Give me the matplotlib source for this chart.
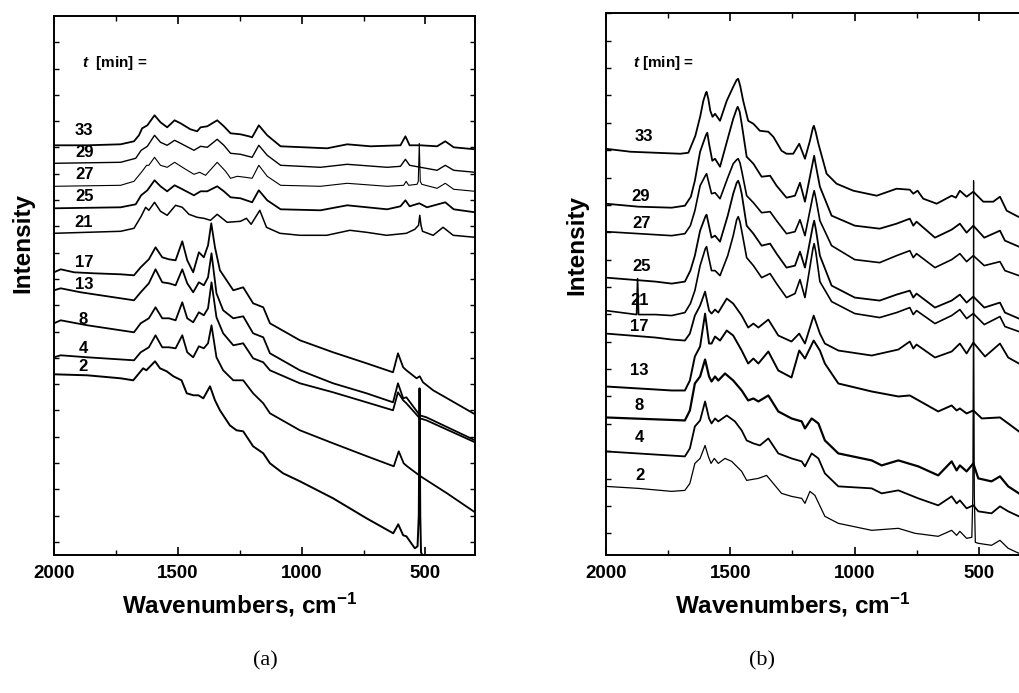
import matplotlib
matplotlib.use('Agg')
import matplotlib.pyplot as plt
import numpy as np

# raman spectra: (wavenumber cm-1, intensity a.u.)
times = [33, 29, 27, 25, 21, 17, 13, 8, 4, 2]

# panel (a)
a33 = [(2000,410),(1866,410),(1731,411),(1677,414),(1657,420),(1644,427),(1623,430),(1594,440),(1570,433),(1543,428),(1513,435),(1489,432),(1449,426),(1422,424),(1408,428),(1381,429),(1341,435),(1314,429),(1287,422),(1247,421),(1213,419),(1200,418),(1173,430),(1139,420),(1085,409),(991,408),(897,407),(816,411),(722,409),(601,410),(581,419),(564,410),(520,410),(453,409),(420,414),(386,408),(300,406)]
a29 = [(2000,392),(1731,393),(1670,397),(1648,405),(1623,409),(1594,420),(1570,413),(1543,410),(1513,415),(1489,412),(1435,405),(1408,409),(1381,408),(1341,416),(1314,410),(1287,402),(1247,401),(1200,398),(1173,410),(1139,400),(1085,390),(924,388),(816,391),(655,388),(601,389),(581,396),(564,390),(520,388),(453,385),(420,390),(386,385),(300,383)]
a27 = [(2000,369),(1731,370),(1677,374),(1644,384),(1626,390),(1617,390),(1594,398),(1570,390),(1543,388),(1513,393),(1475,387),(1435,381),(1412,383),(1388,380),(1341,393),(1307,384),(1287,377),(1260,379),(1227,378),(1200,377),(1173,390),(1139,379),(1085,370),(924,369),(816,372),(655,369),(588,370),(578,374),(568,370),(534,371),(529,374),(525,412),(521,374),(515,371),(453,367),(420,372),(386,366),(300,364)]
a25 = [(2000,347),(1731,348),(1670,351),(1648,360),(1623,365),(1594,375),(1570,369),(1543,364),(1513,370),(1489,367),(1435,360),(1408,364),(1381,364),(1341,369),(1314,364),(1287,358),(1247,357),(1200,353),(1173,365),(1139,355),(1085,346),(924,345),(816,350),(655,346),(601,349),(581,355),(564,349),(525,352),(494,348),(420,353),(386,346),(300,343)]
a21 = [(2000,322),(1731,324),(1677,327),(1648,339),(1630,348),(1617,345),(1594,353),(1570,344),(1543,340),(1509,350),(1482,348),(1455,341),(1422,338),(1395,337),(1368,335),(1341,341),(1301,333),(1247,334),(1223,337),(1204,331),(1169,345),(1142,328),(1088,322),(1007,320),(899,320),(805,325),(738,323),(657,320),(577,322),(543,326),(528,330),(523,340),(518,330),(512,324),(469,320),(429,328),(388,320),(300,318)]
a17 = [(2000,283),(1973,286),(1919,283),(1839,282),(1731,281),(1677,280),(1650,288),(1617,296),(1590,308),(1563,298),(1536,296),(1509,295),(1482,314),(1462,295),(1438,283),(1415,303),(1395,298),(1378,310),(1365,332),(1350,308),(1330,285),(1276,265),(1236,268),(1196,252),(1155,248),(1128,232),(1007,215),(873,203),(738,192),(631,183),(611,202),(590,188),(577,185),(536,177),(523,179),(510,173),(469,165),(300,141)]
a13 = [(2000,265),(1973,267),(1892,263),(1785,259),(1677,255),(1650,263),(1617,272),(1590,286),(1563,273),(1536,272),(1509,270),(1482,286),(1462,272),(1438,263),(1415,273),(1395,270),(1378,278),(1364,302),(1344,262),(1317,245),(1276,237),(1236,239),(1196,222),(1155,218),(1128,202),(1007,185),(873,172),(738,162),(631,153),(611,172),(590,157),(577,158),(523,140),(496,138),(300,115)]
a8 = [(2000,232),(1973,235),(1865,230),(1677,223),(1650,232),(1617,237),(1590,248),(1563,237),(1536,237),(1509,235),(1482,253),(1462,237),(1438,233),(1415,243),(1395,240),(1378,247),(1364,273),(1344,238),(1317,222),(1276,210),(1236,212),(1196,197),(1155,193),(1128,185),(1007,172),(873,163),(738,153),(631,145),(611,163),(590,155),(577,152),(523,137),(496,135),(300,113)]
a4 = [(2000,198),(1973,200),(1865,198),(1677,195),(1650,203),(1617,208),(1590,220),(1563,208),(1536,208),(1509,207),(1482,220),(1462,203),(1438,198),(1415,209),(1395,207),(1378,212),(1364,230),(1344,198),(1317,185),(1276,175),(1236,175),(1196,162),(1155,152),(1128,142),(1007,125),(873,112),(736,99),(628,89),(608,104),(588,92),(574,89),(520,79),(413,62),(300,43)]
a2 = [(2000,181),(1866,180),(1731,177),(1680,175),(1640,187),(1627,185),(1592,194),(1572,187),(1545,184),(1518,179),(1485,175),(1464,162),(1437,160),(1417,160),(1397,157),(1370,169),(1350,155),(1330,145),(1290,130),(1263,125),(1236,124),(1196,109),(1155,102),(1128,92),(1075,82),(1007,74),(873,57),(738,37),(630,22),(610,31),(590,20),(577,19),(543,7),(532,9),(527,40),(525,120),(524,167),(523,120),(521,40),(518,3),(503,-5),(470,-20)]

# panel (b)
b33 = [(2000,407),(1900,404),(1800,403),(1700,402),(1668,403),(1640,420),(1620,440),(1608,455),(1599,462),(1595,464),(1588,457),(1580,445),(1571,439),(1561,442),(1541,435),(1514,455),(1488,469),(1474,476),(1468,477),(1460,470),(1448,455),(1428,435),(1407,432),(1381,425),(1347,424),(1327,419),(1294,405),(1274,402),(1247,402),(1223,412),(1200,397),(1180,415),(1168,428),(1164,430),(1157,424),(1146,412),(1113,382),(1073,372),(1006,365),(912,360),(832,367),(779,366),(765,362),(748,365),(725,357),(671,352),(611,360),(594,358),(578,365),(551,359),(524,364),(484,354),(444,354),(417,359),(390,345),(344,339),(300,335)]
b29 = [(2000,352),(1869,349),(1735,348),(1682,350),(1658,359),(1642,375),(1621,404),(1597,421),(1592,423),(1585,412),(1572,395),(1561,397),(1541,389),(1508,419),(1488,437),(1474,447),(1470,449),(1462,444),(1454,432),(1434,399),(1407,392),(1374,379),(1340,380),(1314,370),(1274,358),(1240,360),(1220,373),(1200,354),(1168,394),(1163,400),(1156,390),(1140,369),(1093,340),(1000,330),(900,327),(832,332),(779,337),(765,330),(752,334),(678,318),(611,326),(578,332),(551,323),(524,330),(480,318),(417,325),(397,315),(341,309)]
b27 = [(2000,324),(1735,320),(1682,322),(1660,330),(1642,345),(1621,370),(1600,380),(1595,382),(1588,375),(1575,362),(1561,363),(1541,357),(1510,378),(1488,392),(1474,396),(1468,397),(1461,393),(1454,385),(1434,360),(1407,353),(1374,343),(1340,344),(1314,335),(1274,322),(1240,324),(1220,336),(1200,320),(1168,360),(1163,365),(1156,357),(1140,335),(1093,310),(1000,296),(900,293),(832,300),(779,305),(765,298),(752,302),(678,288),(611,296),(578,302),(551,294),(524,300),(480,290),(417,294),(397,285),(341,280)]
b25 = [(2000,278),(1800,274),(1735,272),(1682,274),(1660,285),(1642,300),(1621,325),(1600,339),(1595,341),(1588,333),(1575,318),(1561,320),(1541,314),(1510,340),(1488,362),(1474,373),(1468,375),(1461,370),(1454,362),(1434,330),(1407,322),(1374,310),(1340,312),(1314,302),(1274,288),(1240,290),(1220,304),(1200,288),(1168,330),(1163,335),(1156,326),(1140,300),(1093,270),(1000,258),(900,255),(832,261),(779,265),(765,258),(752,262),(678,248),(611,255),(578,261),(551,253),(524,259),(480,248),(417,253),(397,243),(341,237)]
b21 = [(2000,245),(1876,241),(1872,277),(1868,241),(1800,241),(1735,240),(1682,243),(1660,252),(1642,265),(1621,290),(1600,307),(1595,309),(1588,300),(1575,285),(1561,285),(1541,280),(1510,300),(1488,320),(1474,336),(1468,339),(1461,334),(1454,325),(1434,298),(1407,290),(1374,278),(1340,282),(1314,272),(1274,258),(1240,262),(1220,276),(1200,258),(1168,307),(1163,312),(1156,303),(1140,274),(1093,254),(1000,242),(900,238),(832,243),(779,248),(765,241),(752,245),(678,232),(611,240),(578,246),(551,237),(524,242),(480,231),(417,239),(397,229),(341,224)]
b17 = [(2000,222),(1800,218),(1735,216),(1682,215),(1662,222),(1642,240),(1621,250),(1601,264),(1585,245),(1575,242),(1561,246),(1548,243),(1514,257),(1488,252),(1454,240),(1428,228),(1407,232),(1387,228),(1347,236),(1307,220),(1254,214),(1223,222),(1200,212),(1165,240),(1140,222),(1120,212),(1066,205),(932,200),(825,206),(779,214),(765,207),(752,211),(678,198),(611,204),(578,212),(551,202),(524,213),(477,199),(417,212),(384,198),(341,192)]
b13 = [(2000,169),(1800,166),(1735,165),(1682,165),(1662,175),(1642,199),(1621,209),(1601,242),(1585,212),(1575,212),(1561,219),(1541,215),(1514,225),(1488,220),(1454,205),(1428,192),(1407,197),(1387,192),(1347,204),(1307,185),(1254,178),(1223,205),(1200,197),(1165,215),(1140,205),(1120,192),(1066,172),(932,164),(825,159),(779,160),(665,144),(611,150),(591,145),(578,147),(551,142),(524,145),(490,137),(417,138),(384,132),(341,124)]
b8 = [(2000,138),(1682,135),(1662,145),(1642,172),(1621,179),(1601,196),(1585,179),(1575,174),(1561,179),(1548,175),(1521,182),(1488,175),(1454,165),(1428,155),(1407,157),(1387,154),(1347,160),(1307,144),(1254,137),(1213,134),(1200,127),(1173,137),(1146,132),(1120,115),(1066,102),(932,95),(892,90),(825,95),(745,89),(665,80),(611,94),(591,85),(578,90),(551,84),(524,92),(504,77),(451,74),(417,79),(384,69),(341,62)]
b4 = [(2000,104),(1682,99),(1662,107),(1642,129),(1621,135),(1601,154),(1585,137),(1575,132),(1561,137),(1548,134),(1514,140),(1481,134),(1454,125),(1434,115),(1407,112),(1381,110),(1347,117),(1307,102),(1254,97),(1213,94),(1200,89),(1173,102),(1146,97),(1120,82),(1066,69),(932,67),(892,62),(825,65),(745,57),(665,50),(611,59),(591,52),(578,55),(551,47),(524,50),(504,44),(451,42),(417,49),(384,44),(341,39)]
b2 = [(2000,69),(1869,67),(1735,64),(1682,65),(1662,72),(1642,92),(1621,97),(1601,110),(1588,99),(1577,92),(1564,97),(1548,92),(1521,97),(1494,94),(1454,84),(1434,75),(1387,77),(1354,80),(1334,74),(1294,62),(1254,59),(1213,57),(1200,52),(1180,64),(1160,60),(1120,39),(1066,32),(932,25),(825,27),(758,22),(665,19),(611,25),(591,20),(578,24),(551,17),(530,18),(526,60),(524,200),(523,375),(522,200),(520,60),(516,13),(504,12),(451,10),(417,15),(384,7),(341,2)]

spectra_a = [a33, a29, a27, a25, a21, a17, a13, a8, a4, a2]
spectra_b = [b33, b29, b27, b25, b21, b17, b13, b8, b4, b2]
lw_a = [1.3, 1.0, 0.8, 1.3, 1.1, 1.3, 1.3, 1.3, 1.3, 1.4]
lw_b = [1.3, 1.3, 1.2, 1.3, 1.2, 1.3, 1.4, 1.6, 1.3, 0.9]

# label positions (wavenumber, intensity)
lab_a = [(1879,425),(1875,403),(1875,381),(1875,359),(1879,333),(1879,293),(1879,271),(1883,236),(1883,207),(1883,189)]
lab_b = [(1846,419),(1858,359),(1854,332),(1854,289),(1862,255),(1864,229),(1866,185),(1864,150),(1866,118),(1864,80)]

W, H = 1019, 693
plt.rcParams['font.family'] = ['Liberation Sans', 'DejaVu Sans']
plt.rcParams['mathtext.fontset'] = 'custom'
plt.rcParams['mathtext.rm'] = 'Liberation Sans:bold'
plt.rcParams['mathtext.bf'] = 'Liberation Sans:bold'
plt.rcParams['mathtext.bfit'] = 'Liberation Sans:italic:bold'
plt.rcParams['mathtext.it'] = 'Liberation Sans:italic:bold'

fig = plt.figure(figsize=(W / 100, H / 100), dpi=100)

def px_box(left, top, right, bottom):
    return [left / W, 1 - bottom / H, (right - left) / W, (bottom - top) / H]

def style_axes(ax, ymax, yticks):
    ax.set_xlim(2000, 300)
    ax.set_ylim(0, ymax)
    ax.set_xticks([2000, 1500, 1000, 500])
    ax.set_xticks([1750, 1250, 750], minor=True)
    ax.set_yticks(yticks)
    ax.set_yticklabels([])
    ax.tick_params(axis='x', which='major', direction='in', length=6, width=1.2,
                   top=True, bottom=True, labelsize=13.5, pad=7)
    ax.tick_params(axis='x', which='minor', direction='in', length=3.5, width=1.0,
                   top=True, bottom=True)
    ax.tick_params(axis='y', which='major', direction='in', length=3.5, width=1.0,
                   left=True, right=True)
    for lab in ax.get_xticklabels():
        lab.set_fontweight('bold')
    for sp in ax.spines.values():
        sp.set_linewidth(1.4)

# panel (a)
ax_a = fig.add_axes(px_box(54, 16, 475, 555.3))
style_axes(ax_a, 539.3, np.arange(13.3, 539, 26.3))
for spec, lw in zip(spectra_a, lw_a):
    wn, inten = zip(*spec)
    ax_a.plot(wn, inten, color='black', lw=lw)
for t, (x, y) in zip(times, lab_a):
    ax_a.text(x, y, str(t), fontsize=12, fontweight='bold', ha='center', va='center')
ax_a.text(1887, 492, r'$\mathbfit{t}$  [min] =', fontsize=11, fontweight='bold', ha='left', va='center')

# panel (b), runs past the right edge of the figure
ax_b = fig.add_axes(px_box(605.7, 13.3, 605.7 + 1700 / 4.015, 555.3))
style_axes(ax_b, 542, np.arange(22, 543, 27.4))
for spec, lw in zip(spectra_b, lw_b):
    wn, inten = zip(*spec)
    ax_b.plot(wn, inten, color='black', lw=lw)
for t, (x, y) in zip(times, lab_b):
    ax_b.text(x, y, str(t), fontsize=12, fontweight='bold', ha='center', va='center')
ax_b.text(1890, 493, r'$\mathbfit{t}$ [min] =', fontsize=11, fontweight='bold', ha='left', va='center')

# axis titles
xlab = r'Wavenumbers, cm$^{\mathbf{-1}}$'
fig.text(240 / W, 1 - 605 / H, xlab, fontsize=17.5, fontweight='bold', ha='center', va='center')
fig.text(793 / W, 1 - 605 / H, xlab, fontsize=17.5, fontweight='bold', ha='center', va='center')
fig.text(23 / W, 1 - 243 / H, 'Intensity', fontsize=17.5, fontweight='bold', rotation=90, ha='center', va='center')
fig.text(577 / W, 1 - 245 / H, 'Intensity', fontsize=17.5, fontweight='bold', rotation=90, ha='center', va='center')

# panel captions
fig.text(265 / W, 1 - 661 / H, '(a)', fontsize=16, family='Liberation Serif', ha='center', va='center')
fig.text(762 / W, 1 - 661 / H, '(b)', fontsize=16, family='Liberation Serif', ha='center', va='center')

fig.savefig('out.png', dpi=100)
